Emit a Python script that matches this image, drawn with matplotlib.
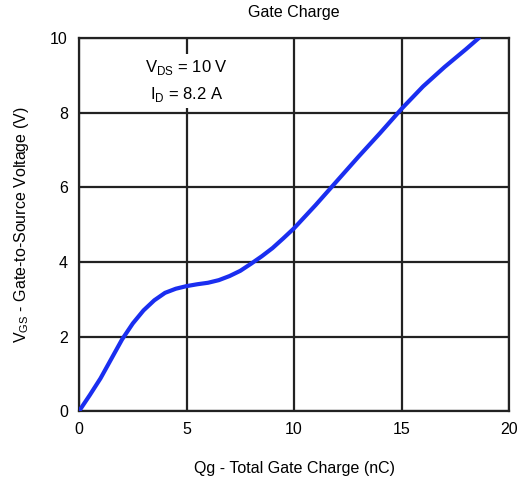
import matplotlib
matplotlib.use("Agg")
import matplotlib.pyplot as plt

plt.rcParams["font.family"] = "Liberation Sans"

# gate charge curve, Qg (nC) vs VGS (V)
qg = [0.0, 0.5, 1.0, 1.5, 2.0, 2.5, 3.0, 3.5, 4.0, 4.5, 5.0, 5.5, 6.0, 6.5,
      7.0, 7.5, 8.0, 8.5, 9.0, 9.5, 10.0, 11.0, 12.0, 13.0, 14.0, 15.0,
      16.0, 17.0, 18.0, 18.6]
vgs = [0.0, 0.43, 0.88, 1.4, 1.92, 2.35, 2.7, 2.97, 3.17, 3.28, 3.35, 3.40,
       3.44, 3.51, 3.62, 3.76, 3.95, 4.15, 4.37, 4.63, 4.9, 5.52, 6.17, 6.82,
       7.45, 8.1, 8.7, 9.22, 9.7, 10.0]

x_ticks = [0, 5, 10, 15, 20]
y_ticks = [0, 2, 4, 6, 8, 10]

fig = plt.figure(figsize=(5.2, 4.86), dpi=100)
ax = fig.add_axes([0.152, 0.154, 0.827, 0.768])

ax.plot(qg, vgs, color="#1a2ef0", lw=3.0, solid_capstyle="round",
        solid_joinstyle="round", zorder=4)

ax.set_xlim(0, 20)
ax.set_ylim(0, 10)
ax.set_xticks(x_ticks)
ax.set_yticks(y_ticks)
ax.tick_params(length=0, labelsize=11.5, pad=8)
ax.grid(True, color="#222222", lw=1.6, zorder=1)
ax.set_axisbelow(True)
for s in ax.spines.values():
    s.set_color("#222222")
    s.set_linewidth(1.6)

ax.text(5, 8.85, "V$_{\\mathregular{DS}}$ = 10 V\nI$_{\\mathregular{D}}$ = 8.2 A",
        ha="center", va="center", fontsize=12, linespacing=1.55,
        bbox=dict(facecolor="white", edgecolor="none", pad=3), zorder=3)

ax.set_title("Gate Charge", fontsize=11.5, pad=15)
ax.set_xlabel("Qg - Total Gate Charge (nC)", fontsize=11.5, labelpad=17)
ax.set_ylabel("V$_{\\mathregular{GS}}$ - Gate-to-Source Voltage (V)",
              fontsize=11.5, labelpad=14)

fig.savefig("out.png", dpi=100)
